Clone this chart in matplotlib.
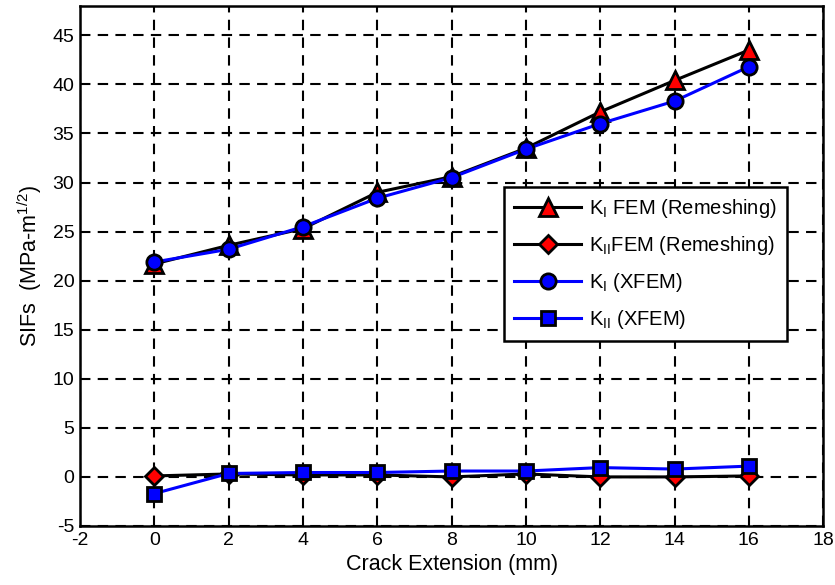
import matplotlib.pyplot as plt

plt.rcParams['font.family'] = ['Liberation Sans', 'DejaVu Sans']
plt.rcParams['mathtext.fontset'] = 'custom'
plt.rcParams['mathtext.rm'] = 'Liberation Sans'
plt.rcParams['axes.unicode_minus'] = False

# Crack extension (mm)
crack = [0, 2, 4, 6, 8, 10, 12, 14, 16]

# SIFs (MPa-m^1/2)
ki_fem = [21.7, 23.6, 25.3, 29.0, 30.6, 33.5, 37.2, 40.4, 43.5]
kii_fem = [0.1, 0.3, 0.2, 0.2, 0.0, 0.3, 0.0, 0.0, 0.1]
ki_xfem = [21.9, 23.2, 25.5, 28.4, 30.5, 33.4, 36.0, 38.3, 41.8]
kii_xfem = [-1.7, 0.35, 0.45, 0.45, 0.6, 0.6, 0.95, 0.8, 1.1]

fig = plt.figure(figsize=(8.35, 5.85), dpi=100)
ax = fig.add_axes([0.0958, 0.1009, 0.890, 0.889])

ax.plot(crack, ki_fem, color='black', lw=2.2, marker='^', ms=13,
        mfc='red', mec='black', mew=2, label=r'K$_\mathrm{I}$ FEM (Remeshing)')
ax.plot(crack, kii_fem, color='black', lw=2.2, marker='D', ms=9,
        mfc='red', mec='black', mew=2, label=r'K$_\mathrm{II}$FEM (Remeshing)')
ax.plot(crack, ki_xfem, color='blue', lw=2.2, marker='o', ms=11,
        mfc='blue', mec='black', mew=2, label=r'K$_\mathrm{I}$ (XFEM)')
ax.plot(crack, kii_xfem, color='blue', lw=2.2, marker='s', ms=10,
        mfc='blue', mec='black', mew=2, label=r'K$_\mathrm{II}$ (XFEM)')

ax.set_xlim(-2, 18)
ax.set_ylim(-5, 48)
ax.set_xticks(range(-2, 19, 2))
ax.set_yticks(range(-5, 46, 5))
ax.grid(True, color='black', linestyle=(0, (5, 3.5)), linewidth=1.5)
ax.tick_params(direction='in', top=True, right=True, labelsize=14,
               width=1.2, length=0, pad=4)
for s in ax.spines.values():
    s.set_linewidth(1.8)

ax.set_xlabel('Crack Extension (mm)', fontsize=15.5, labelpad=4)
ax.set_ylabel(r'SIFs  (MPa-m$^{1/2}$)', fontsize=15.5, labelpad=6)

leg = ax.legend(loc='upper left', bbox_to_anchor=(0.571, 0.652), fontsize=14.5,
                fancybox=False, framealpha=1, edgecolor='black',
                handlelength=3.3, handletextpad=0.4, borderpad=0.5,
                labelspacing=0.7, borderaxespad=0)
leg.get_frame().set_linewidth(1.8)

fig.savefig('out.png', dpi=100)
